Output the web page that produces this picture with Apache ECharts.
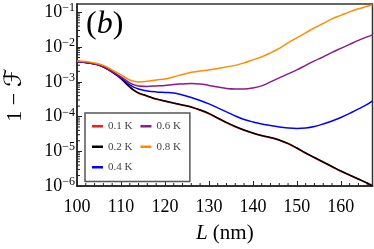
<!DOCTYPE html>
<html><head><meta charset="utf-8">
<script src="https://cdn.jsdelivr.net/npm/echarts@6/dist/echarts.min.js"></script>
<style>html,body{margin:0;padding:0;background:#fff}#c{width:374px;height:249px}</style>
</head><body><div id="c"></div>
<script>
const L = [100,102,104,106,108,110,112,113,114,116,118,120,122,124,126,128,130,132,134,136,138,140,142,144,146,148,150,152,154,156,158,160,162,164,166,167.2];
const red = [3.72e-3,3.60e-3,3.25e-3,2.66e-3,1.90e-3,1.23e-3,7.0e-4,5.55e-4,4.70e-4,3.85e-4,3.16e-4,2.77e-4,2.42e-4,2.12e-4,1.86e-4,1.52e-4,1.20e-4,8.9e-5,6.6e-5,5.05e-5,4.02e-5,3.30e-5,2.80e-5,2.46e-5,2.08e-5,1.65e-5,1.22e-5,8.8e-6,6.5e-6,4.82e-6,3.58e-6,2.66e-6,2.03e-6,1.56e-6,1.20e-6,1.0e-6];
const black = [3.75e-3,3.62e-3,3.28e-3,2.69e-3,1.93e-3,1.25e-3,7.13e-4,5.65e-4,4.79e-4,3.92e-4,3.22e-4,2.82e-4,2.46e-4,2.16e-4,1.89e-4,1.55e-4,1.23e-4,9.12e-5,6.76e-5,5.18e-5,4.11e-5,3.37e-5,2.85e-5,2.50e-5,2.12e-5,1.68e-5,1.24e-5,8.93e-6,6.63e-6,4.91e-6,3.65e-6,2.71e-6,2.07e-6,1.59e-6,1.22e-6,1.0e-6];
const blue = [3.75e-3,3.62e-3,3.28e-3,2.69e-3,1.93e-3,1.30e-3,8.14e-4,6.90e-4,6.24e-4,5.47e-4,5.12e-4,4.95e-4,4.79e-4,4.19e-4,3.55e-4,2.91e-4,2.31e-4,1.77e-4,1.36e-4,1.04e-4,8.25e-5,6.99e-5,6.12e-5,5.54e-5,5.01e-5,4.69e-5,4.54e-5,4.69e-5,5.18e-5,6.12e-5,7.47e-5,9.42e-5,1.23e-4,1.66e-4,2.23e-4,2.82e-4];
const purple = [3.75e-3,3.62e-3,3.28e-3,2.69e-3,1.99e-3,1.38e-3,9.30e-4,8.14e-4,7.62e-4,7.37e-4,7.62e-4,7.87e-4,8.42e-4,8.70e-4,8.99e-4,8.70e-4,7.87e-4,7.13e-4,6.45e-4,6.24e-4,6.24e-4,6.67e-4,7.62e-4,9.93e-4,1.30e-3,1.69e-3,2.20e-3,2.97e-3,4.00e-3,5.22e-3,7.04e-3,9.17e-3,1.196e-2,1.56e-2,1.97e-2,2.25e-2];
const orange = [4.00e-3,3.87e-3,3.50e-3,2.97e-3,2.20e-3,1.58e-3,1.13e-3,1.03e-3,9.93e-4,1.03e-3,1.13e-3,1.21e-3,1.38e-3,1.63e-3,1.87e-3,2.06e-3,2.20e-3,2.43e-3,2.69e-3,2.97e-3,3.50e-3,4.28e-3,5.22e-3,6.81e-3,9.17e-3,1.32e-2,1.84e-2,2.57e-2,3.57e-2,4.82e-2,6.50e-2,8.19e-2,0.1034,0.1262,0.1489,0.1644];
const names = ['0.1 K','0.2 K','0.4 K','0.6 K','0.8 K'];
const colors = ['#ff1a1a','#000000','#0000ff','#8b1a8b','#ff8c00'];
const seriesVals = [red, black, blue, purple, orange];
const xMin = 100, xMax = 167.2, yMinExp = -6, yMaxExp = -0.76;

const serif = "'Liberation Serif','DejaVu Serif',serif";
const chart = echarts.init(document.getElementById('c'), null, {renderer:'canvas'});

const lines = seriesVals.map((vals, i) => ({
  name: names[i], type: 'line', smooth: 0.35, symbol: 'none',
  lineStyle: {color: colors[i], width: 1.5}, itemStyle: {color: colors[i]},
  data: L.map((x, j) => [x, Math.log10(vals[j])]), z: 3 + i
}));

const yMinor = [];
for (let e = yMinExp; e < 0; e++) for (let k = 2; k <= 9; k++) {
  const v = e + Math.log10(k);
  if (v < yMaxExp) yMinor.push([xMin, v]);
}
const xMinor = [];
for (let x = 102; x < xMax; x += 2) if (x % 10 !== 0) xMinor.push([x, yMinExp]);

const tickColor = '#222';
chart.setOption({
  animation: false,
  grid: {left: 77, right: 1.5, top: 4, bottom: 63, show: true, borderColor: '#333', borderWidth: 1.5, outerBoundsMode: 'none', containLabel: false},
  xAxis: {
    type: 'value', min: xMin, max: xMax, interval: 10,
    axisLine: {lineStyle: {color: '#222', width: 1.5}},
    axisTick: {inside: true, length: 5, lineStyle: {color: tickColor}},
    splitLine: {show: false},
    axisLabel: {showMaxLabel: false, margin: 12, fontFamily: serif, fontSize: 18, color: '#000'},
    name: '{i|L} (nm)', nameLocation: 'middle', nameGap: 37,
    nameTextStyle: {fontFamily: serif, fontSize: 21, color: '#000', rich: {i: {fontStyle: 'italic', fontFamily: serif, fontSize: 21}}}
  },
  yAxis: {
    type: 'value', min: yMinExp, max: yMaxExp, interval: 1,
    axisLine: {lineStyle: {color: '#222', width: 1.5}},
    axisTick: {inside: true, length: 5, lineStyle: {color: tickColor}},
    splitLine: {show: false},
    axisLabel: {
      showMaxLabel: false, margin: 2,
      formatter: v => '{b|10}{s|\u2212' + Math.round(-v) + '}',
      rich: {
        b: {fontFamily: serif, fontSize: 18, lineHeight: 20, color: '#000'},
        s: {fontFamily: serif, fontSize: 12, lineHeight: 12, verticalAlign: 'top', color: '#000'}
      }
    },
    name: '{n|1 \u2212 }{f|\u2131}', nameLocation: 'middle', nameGap: 50,
    nameTextStyle: {fontFamily: serif, fontSize: 22, color: '#000', rich: {
      n: {fontFamily: serif, fontSize: 22, color: '#000'},
      f: {fontFamily: "'DejaVu Serif','DejaVu Sans',serif", fontSize: 24, fontStyle: 'italic', color: '#000'}
    }}
  },
  legend: {
    data: names, orient: 'vertical', left: 85, top: 113, height: 56,
    padding: [7, 9, 8, 7], itemGap: 8, itemWidth: 11, itemHeight: 2.5, icon: 'rect',
    backgroundColor: '#fff', borderColor: '#555', borderWidth: 1.5, borderRadius: 0,
    textStyle: {fontFamily: serif, fontSize: 11, lineHeight: 12.5, color: '#444'},
    z: 20
  },
  graphic: [{
    type: 'text', left: 86, top: 9, z: 30,
    style: {text: '{p|(}{b|b}{p|)}', rich: {
      p: {fontFamily: serif, fontSize: 32, fill: '#000'},
      b: {fontFamily: serif, fontSize: 32, fontStyle: 'italic', fill: '#000'}
    }}
  }],
  series: lines.concat([
    {type: 'custom', silent: true, z: 2, data: yMinor,
      renderItem: (p, api) => { const c = api.coord([api.value(0), api.value(1)]);
        return {type: 'line', shape: {x1: c[0], y1: c[1], x2: c[0] + 3, y2: c[1]}, style: {stroke: tickColor, lineWidth: 1}}; }},
    {type: 'custom', silent: true, z: 2, data: xMinor,
      renderItem: (p, api) => { const c = api.coord([api.value(0), api.value(1)]);
        return {type: 'line', shape: {x1: c[0], y1: c[1], x2: c[0], y2: c[1] - 3}, style: {stroke: tickColor, lineWidth: 1}}; }}
  ])
});
</script></body></html>
